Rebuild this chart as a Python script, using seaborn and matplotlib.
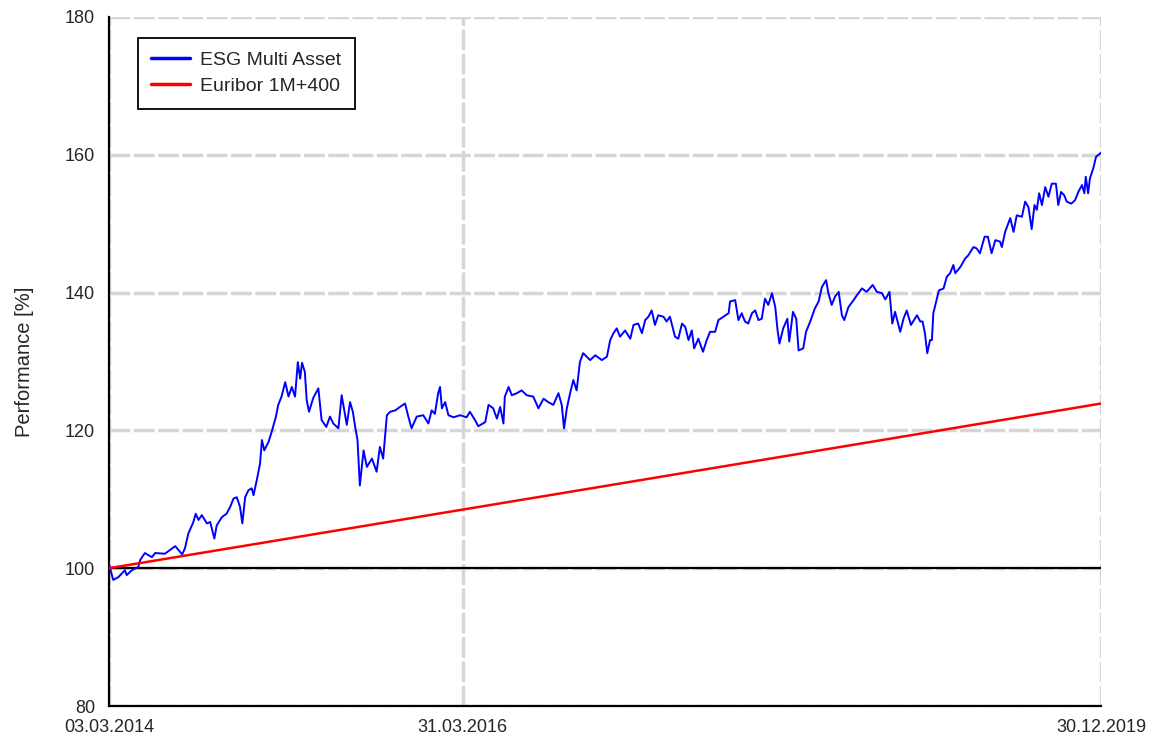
import pandas as pd
import matplotlib
matplotlib.use('Agg')
import matplotlib.pyplot as plt
import matplotlib.dates as mdates
import seaborn as sns

# Dados do gráfico (dias desde 03.03.2014 e performance em %)
inicio = '2014-03-03'

dias_fundo = [0, 9, 20, 34, 38, 49, 63, 67, 77, 92, 99, 120, 142, 152, 157, 163, 170, 181, 186, 192,
              199, 210, 217, 226, 231, 242, 252, 260, 267, 274, 281, 286, 292, 299, 306, 310, 317, 324,
              328, 333, 342, 349, 358, 363, 370, 378, 385, 392, 399, 405, 410, 414, 420, 424, 429, 438,
              449, 456, 466, 474, 481, 492, 499, 510, 517, 523, 528, 533, 538, 546, 553, 564, 574, 581,
              588, 596, 603, 614, 624, 635, 642, 649, 660, 674, 685, 692, 699, 706, 710, 714, 721, 728,
              739, 753, 767, 774, 785, 792, 807, 814, 824, 832, 839, 846, 849, 857, 864, 875, 885, 896,
              910, 921, 932, 942, 953, 964, 971, 976, 982, 989, 996, 1003, 1010, 1017, 1032, 1043, 1057,
              1068, 1075, 1082, 1089, 1096, 1107, 1118, 1125, 1135, 1143, 1150, 1157, 1164, 1171, 1178,
              1189, 1196, 1203, 1214, 1221, 1229, 1236, 1243, 1250, 1255, 1264, 1274, 1282, 1289, 1300,
              1307, 1318, 1329, 1332, 1343, 1350, 1357, 1364, 1371, 1379, 1386, 1393, 1400, 1407, 1414,
              1422, 1429, 1434, 1438, 1446, 1455, 1459, 1467, 1474, 1479, 1489, 1495, 1504, 1514, 1522,
              1529, 1538, 1543, 1550, 1557, 1565, 1572, 1577, 1586, 1597, 1604, 1615, 1625, 1638, 1647,
              1658, 1665, 1674, 1680, 1686, 1697, 1704, 1711, 1720, 1733, 1740, 1745, 1750, 1755, 1761,
              1765, 1768, 1775, 1780, 1790, 1797, 1804, 1811, 1815, 1826, 1836, 1843, 1854, 1861, 1868,
              1878, 1885, 1893, 1901, 1911, 1915, 1922, 1933, 1940, 1947, 1958, 1965, 1972, 1979, 1985,
              1990, 1995, 2001, 2008, 2015, 2022, 2031, 2036, 2042, 2049, 2054, 2064, 2072, 2079, 2087,
              2092, 2095, 2100, 2104, 2111, 2117, 2126, 2128]

perf_fundo = [100.6, 98.3, 98.7, 99.7, 99.0, 99.7, 100.2, 101.2, 102.2, 101.6, 102.2, 102.1, 103.2, 102.4,
              102.0, 102.9, 105.0, 106.7, 107.9, 107.0, 107.7, 106.5, 106.7, 104.3, 106.2, 107.4, 107.9,
              108.9, 110.1, 110.3, 108.9, 106.5, 110.3, 111.3, 111.6, 110.6, 112.8, 115.2, 118.6, 117.1,
              118.3, 119.8, 122.0, 123.7, 124.9, 127.0, 124.9, 126.3, 124.9, 129.9, 127.5, 129.8, 128.5,
              124.4, 122.7, 124.7, 126.1, 121.5, 120.5, 122.0, 121.0, 120.3, 125.1, 120.8, 124.1, 122.7,
              120.5, 118.6, 112.0, 117.1, 114.7, 115.9, 114.0, 117.6, 115.9, 122.2, 122.7, 122.9, 123.4,
              123.9, 122.0, 120.3, 122.0, 122.2, 121.0, 122.9, 122.4, 125.4, 126.3, 123.2, 124.1, 122.2,
              121.9, 122.2, 121.9, 122.7, 121.5, 120.6, 121.2, 123.7, 123.2, 121.7, 123.4, 121.0, 124.9,
              126.3, 125.1, 125.4, 125.8, 125.1, 124.9, 123.2, 124.6, 124.1, 123.7, 125.4, 123.7, 120.3,
              123.2, 125.4, 127.3, 125.8, 129.9, 131.2, 130.2, 130.9, 130.2, 130.7, 133.1, 134.1, 134.8,
              133.6, 134.5, 133.3, 135.3, 135.5, 134.1, 136.0, 136.5, 137.4, 135.3, 136.7, 136.5, 135.8,
              136.5, 133.6, 133.3, 135.5, 135.0, 133.1, 134.5, 131.9, 133.3, 131.4, 133.1, 134.3, 134.3,
              136.0, 136.5, 137.0, 138.7, 138.9, 136.0, 137.0, 135.8, 135.5, 137.0, 137.4, 136.0, 136.2,
              139.1, 138.2, 139.9, 137.9, 134.5, 132.6, 134.8, 136.2, 132.9, 137.2, 136.2, 131.6, 131.9,
              134.3, 135.8, 137.7, 138.7, 140.8, 141.8, 139.9, 138.2, 139.4, 140.1, 136.7, 136.0, 137.9,
              138.9, 139.6, 140.6, 140.1, 141.1, 140.1, 139.9, 139.0, 140.1, 135.5, 137.2, 134.3, 136.2,
              137.4, 135.3, 136.7, 135.8, 135.8, 134.1, 131.2, 133.1, 133.1, 137.0, 138.9, 140.3, 140.6,
              142.3, 142.8, 144.0, 142.8, 143.7, 144.9, 145.4, 146.6, 146.4, 145.7, 148.1, 148.1, 145.7,
              147.6, 147.4, 146.6, 148.8, 150.8, 148.8, 151.2, 151.0, 153.2, 152.4, 149.2, 152.7, 152.0,
              154.4, 152.7, 155.3, 153.9, 155.8, 155.8, 152.7, 154.6, 154.1, 153.2, 152.9, 153.4, 154.6,
              155.6, 154.4, 156.8, 154.4, 156.6, 158.0, 159.7, 160.2, 160.3]

dias_bench = [0, 304, 669, 1035, 1400, 1765, 2128]
perf_bench = [100.0, 103.4, 107.5, 111.6, 115.7, 119.8, 123.9]

datas_ticks = ['2014-03-03', '2016-03-31', '2019-12-30']
nome_fundo = 'ESG Multi Asset'
nome_bench = 'Euribor 1M+400'

t0 = pd.Timestamp(inicio)
df_fundo = pd.DataFrame({'data': t0 + pd.to_timedelta(dias_fundo, unit='D'), 'perf': perf_fundo})
df_bench = pd.DataFrame({'data': t0 + pd.to_timedelta(dias_bench, unit='D'), 'perf': perf_bench})

sns.set_style('white')
plt.rcParams['font.family'] = ['Liberation Sans', 'DejaVu Sans']

fig = plt.figure(figsize=(11.51, 7.41), dpi=100)
ax = fig.add_axes([0.0947, 0.0472, 0.862, 0.93])

ax.axhline(100, color='black', linewidth=1.6, zorder=2)
sns.lineplot(data=df_fundo, x='data', y='perf', color='#0000ff', linewidth=1.4, label=nome_fundo, ax=ax, zorder=3)
sns.lineplot(data=df_bench, x='data', y='perf', color='#ff0000', linewidth=1.8, label=nome_bench, ax=ax, zorder=4)

ax.set_xlim(t0, pd.Timestamp(datas_ticks[-1]))
ax.set_ylim(80, 180)
ax.set_yticks(range(80, 181, 20))
ax.set_xticks([pd.Timestamp(d) for d in datas_ticks])
ax.xaxis.set_major_formatter(mdates.DateFormatter('%d.%m.%Y'))
ax.set_xlabel('')
ax.set_ylabel('Performance [%]', fontsize=14.5, labelpad=22)

ax.grid(True, color='#d6d6d6', linestyle=(0, (6, 1)), linewidth=2.5)
ax.set_axisbelow(True)
for lado in ['top', 'right']:
    ax.spines[lado].set_visible(False)
for lado in ['left', 'bottom']:
    ax.spines[lado].set_color('black')
    ax.spines[lado].set_linewidth(1.6)
ax.tick_params(axis='both', direction='out', width=1.4, color='black', labelsize=13, pad=2)
ax.tick_params(axis='y', length=8)
ax.tick_params(axis='x', length=6, pad=3)

leg = ax.legend(loc='upper left', bbox_to_anchor=(0.029, 0.97), borderaxespad=0, fontsize=14,
                fancybox=False, edgecolor='black', framealpha=1, handlelength=2.0, handletextpad=0.5,
                borderpad=0.7, labelspacing=0.45)
leg.get_frame().set_linewidth(1.3)
for linha in leg.get_lines():
    linha.set_linewidth(2.5)

plt.savefig('out.png', dpi=100)
